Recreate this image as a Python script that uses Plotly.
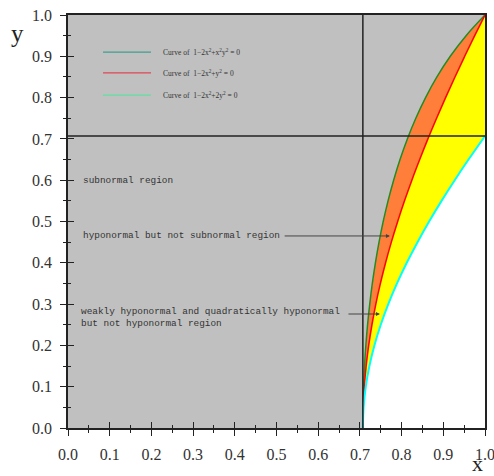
import plotly.graph_objects as go

# ---- data ----
y_samples = [0.0, 0.05, 0.1, 0.15, 0.2, 0.25, 0.3, 0.35, 0.4, 0.45, 0.5,
             0.55, 0.6, 0.65, 0.7, 0.75, 0.8, 0.85, 0.9, 0.95, 1.0]
# Curve 1-2x^2+x^2y^2=0 (green)
green_x = [0.7071, 0.7076, 0.7089, 0.7111, 0.7143, 0.7184, 0.7236, 0.7298,
           0.7372, 0.7459, 0.7559, 0.7675, 0.7809, 0.7962, 0.8138, 0.8341,
           0.8575, 0.8847, 0.9167, 0.9546, 1.0]
# Curve 1-2x^2+y^2=0 (red)
red_x = [0.7071, 0.7080, 0.7106, 0.7150, 0.7211, 0.7289, 0.7382, 0.7492,
         0.7616, 0.7754, 0.7906, 0.8070, 0.8246, 0.8434, 0.8631, 0.8839,
         0.9055, 0.9280, 0.9513, 0.9753, 1.0]
# Curve 1-2x^2+2y^2=0 (cyan)
cyan_y = [0.0, 0.05, 0.1, 0.15, 0.2, 0.25, 0.3, 0.35, 0.4, 0.45, 0.5,
          0.55, 0.6, 0.65, 0.7071]
cyan_x = [0.7071, 0.7089, 0.7141, 0.7228, 0.7348, 0.75, 0.7681, 0.7890,
          0.8124, 0.8382, 0.8660, 0.8958, 0.9274, 0.9605, 1.0]
ref_lines = [0.7071]
tick_vals = [0.0, 0.1, 0.2, 0.3, 0.4, 0.5, 0.6, 0.7, 0.8, 0.9, 1.0]
tick_text = ["0.0", "0.1", "0.2", "0.3", "0.4", "0.5", "0.6", "0.7", "0.8", "0.9", "1.0"]

legend_labels = [
    "Curve of  1\u22122x<sup>2</sup>+x<sup>2</sup>y<sup>2</sup> = 0",
    "Curve of  1\u22122x<sup>2</sup>+y<sup>2</sup> = 0",
    "Curve of  1\u22122x<sup>2</sup>+2y<sup>2</sup> = 0",
]
legend_colors = ["#3f9f90", "#e04654", "#5fe0a2"]

GRAY = "#c0c0c0"
ORANGE = "#ff7f3a"
YELLOW = "#ffff00"

fig = go.Figure()

# gray region (left/above green curve)
gx = [0.0] + green_x + [0.0]
gy = [0.0] + y_samples + [1.0]
fig.add_trace(go.Scatter(x=gx, y=gy, fill="toself", fillcolor=GRAY,
                         line=dict(width=0), mode="lines", hoverinfo="skip"))
# orange region (between green and red)
ox = green_x + red_x[::-1]
oy = y_samples + y_samples[::-1]
fig.add_trace(go.Scatter(x=ox, y=oy, fill="toself", fillcolor=ORANGE,
                         line=dict(width=0), mode="lines", hoverinfo="skip"))
# yellow region (between red and cyan / right edge)
yx = red_x + cyan_x[::-1]
yy = y_samples + cyan_y[::-1]
fig.add_trace(go.Scatter(x=yx, y=yy, fill="toself", fillcolor=YELLOW,
                         line=dict(width=0), mode="lines", hoverinfo="skip"))

# curves
fig.add_trace(go.Scatter(x=green_x, y=y_samples, mode="lines",
                         line=dict(color="#228b22", width=1.5, shape="spline")))
fig.add_trace(go.Scatter(x=red_x, y=y_samples, mode="lines",
                         line=dict(color="#ff0000", width=1.5, shape="spline")))
fig.add_trace(go.Scatter(x=cyan_x, y=cyan_y, mode="lines",
                         line=dict(color="#00ffff", width=2, shape="spline")))

shapes = [
    dict(type="line", xref="x", yref="paper", x0=ref_lines[0], x1=ref_lines[0],
         y0=0, y1=1, line=dict(color="#222222", width=1.5)),
    dict(type="line", xref="paper", yref="y", x0=0, x1=1,
         y0=ref_lines[0], y1=ref_lines[0], line=dict(color="#222222", width=1.5)),
]
annotations = []
leg_y = [0.910, 0.860, 0.806]
for lab, col, ly in zip(legend_labels, legend_colors, leg_y):
    shapes.append(dict(type="line", xref="paper", yref="paper", x0=0.084, x1=0.199,
                       y0=ly, y1=ly, line=dict(color=col, width=1.2)))
    annotations.append(dict(xref="paper", yref="paper", x=0.223, y=ly, text=lab,
                            showarrow=False, xanchor="left", yanchor="middle",
                            font=dict(family="Liberation Serif", size=7.5, color="#333333")))

mono = dict(family="Liberation Mono", size=9.4, color="#333333")
annotations += [
    dict(x=0.031, y=0.600, text="subnormal region", showarrow=False,
         xanchor="left", yanchor="middle", font=mono),
    dict(x=0.772, y=0.465, ax=0.516, ay=0.465, axref="x", ayref="y",
         text="", showarrow=True, arrowhead=2, arrowsize=0.8, arrowwidth=1,
         arrowcolor="#444444"),
    dict(x=0.031, y=0.465, text="hyponormal but not subnormal region", showarrow=False,
         xanchor="left", yanchor="middle", font=mono),
    dict(x=0.748, y=0.276, ax=0.669, ay=0.276, axref="x", ayref="y",
         text="", showarrow=True, arrowhead=2, arrowsize=0.8, arrowwidth=1,
         arrowcolor="#444444"),
    dict(x=0.027, y=0.283, text="weakly hyponormal and quadratically hyponormal",
         showarrow=False, xanchor="left", yanchor="middle", font=mono),
    dict(x=0.027, y=0.254, text="but not hyponormal region",
         showarrow=False, xanchor="left", yanchor="middle", font=mono),
    dict(xref="paper", yref="paper", x=-0.12, y=0.956, text="y", showarrow=False,
         xanchor="center", yanchor="middle",
         font=dict(family="Liberation Serif", size=25, color="#222222")),
    dict(xref="paper", yref="paper", x=0.983, y=-0.085, text="x", showarrow=False,
         xanchor="center", yanchor="middle",
         font=dict(family="Liberation Serif", size=22, color="#222222")),
]

tickfont = dict(family="Liberation Serif", size=16, color="#333333")
common = dict(range=[0, 1], showgrid=False, zeroline=False, showline=True,
              linecolor="#222222", linewidth=1.5, mirror=True, automargin=False,
              tickvals=tick_vals, ticktext=tick_text, tickfont=tickfont,
              ticks="outside", ticklen=6, tickwidth=1.2, tickcolor="#222222",
              minor=dict(dtick=0.05, ticks="outside", ticklen=3, tickwidth=1,
                         tickcolor="#222222"),
              ticklabelstandoff=5, ticklabeloverflow="allow")
inner = dict(range=[0, 1], showgrid=False, zeroline=False, showline=False,
             automargin=False,
             tickvals=tick_vals, showticklabels=False,
             ticks="inside", ticklen=6, tickwidth=1.2, tickcolor="#222222",
             minor=dict(dtick=0.05, ticks="inside", ticklen=3, tickwidth=1,
                        tickcolor="#222222"))

fig.update_layout(
    width=494, height=476,
    margin=dict(l=68, r=9, t=15, b=48),
    paper_bgcolor="white", plot_bgcolor="white",
    showlegend=False,
    xaxis=common,
    yaxis=common,
    xaxis2=dict(overlaying="x", side="bottom", anchor="y", **inner),
    yaxis2=dict(overlaying="y", side="left", anchor="x", **inner),
    shapes=shapes,
    annotations=annotations,
)
# invisible trace to activate the overlay axes
fig.add_trace(go.Scatter(x=[None], y=[None], xaxis="x2", yaxis="y2",
                         mode="markers", hoverinfo="skip"))

fig.write_html("out.html", config={"displayModeBar": False},
               post_script="document.body.style.margin='0';document.body.style.overflow='hidden';")
